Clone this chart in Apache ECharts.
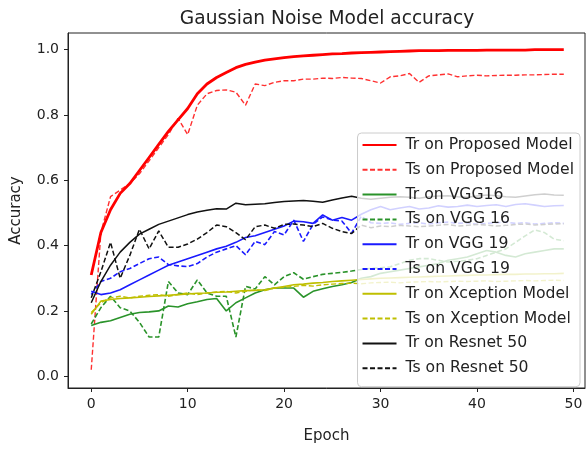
<!DOCTYPE html>
<html>
<head>
<meta charset="utf-8">
<script src="https://cdn.jsdelivr.net/npm/echarts@6/dist/echarts.min.js"></script>
<style>
html,body{margin:0;padding:0;background:#fff;}
#chart{width:586px;height:449px;}
</style>
</head>
<body>
<div id="chart"></div>
<script>
var epochs = [0,1,2,3,4,5,6,7,8,9,10,11,12,13,14,15,16,17,18,19,20,21,22,23,24,25,26,27,28,29,30,31,32,33,34,35,36,37,38,39,40,41,42,43,44,45,46,47,48,49];
var xTicks = [0,10,20,30,40,50];
var yTicks = [0,0.2,0.4,0.6,0.8,1.0];

var trProposed = [0.31,0.44,0.51,0.56,0.59,0.63,0.67,0.71,0.75,0.785,0.82,0.865,0.895,0.915,0.93,0.945,0.955,0.962,0.968,0.972,0.976,0.979,0.981,0.983,0.985,0.987,0.988,0.99,0.991,0.992,0.993,0.994,0.995,0.996,0.997,0.997,0.997,0.998,0.998,0.998,0.998,0.999,0.999,0.999,0.999,0.999,1.0,1.0,1.0,1.0];
var tsProposed = [0.02,0.44,0.55,0.57,0.59,0.62,0.66,0.70,0.74,0.79,0.74,0.83,0.865,0.875,0.877,0.87,0.83,0.895,0.89,0.9,0.905,0.905,0.91,0.91,0.913,0.912,0.915,0.913,0.912,0.905,0.898,0.917,0.92,0.927,0.9,0.92,0.923,0.926,0.917,0.92,0.922,0.92,0.921,0.922,0.922,0.923,0.923,0.924,0.925,0.925];
var trVGG16 = [0.155,0.165,0.17,0.18,0.19,0.195,0.197,0.2,0.215,0.212,0.222,0.228,0.235,0.238,0.2,0.225,0.24,0.255,0.265,0.27,0.27,0.27,0.242,0.26,0.268,0.275,0.28,0.287,0.3,0.305,0.315,0.32,0.325,0.33,0.335,0.34,0.345,0.355,0.36,0.365,0.375,0.385,0.38,0.37,0.365,0.375,0.38,0.385,0.39,0.39];
var tsVGG16 = [0.16,0.21,0.245,0.21,0.2,0.165,0.12,0.12,0.29,0.255,0.25,0.295,0.255,0.245,0.245,0.12,0.275,0.267,0.305,0.28,0.305,0.317,0.297,0.305,0.312,0.315,0.318,0.322,0.327,0.33,0.332,0.335,0.345,0.355,0.36,0.36,0.355,0.35,0.352,0.355,0.36,0.37,0.38,0.39,0.41,0.43,0.448,0.44,0.42,0.415];
var trVGG19 = [0.26,0.25,0.255,0.265,0.28,0.295,0.31,0.325,0.34,0.35,0.36,0.37,0.38,0.39,0.398,0.41,0.425,0.43,0.44,0.45,0.46,0.475,0.473,0.468,0.494,0.478,0.486,0.478,0.496,0.51,0.52,0.51,0.515,0.52,0.512,0.515,0.522,0.518,0.52,0.524,0.52,0.523,0.525,0.52,0.526,0.528,0.524,0.52,0.522,0.523];
var tsVGG19 = [0.25,0.29,0.30,0.32,0.33,0.345,0.36,0.365,0.342,0.338,0.336,0.345,0.365,0.38,0.39,0.40,0.372,0.413,0.403,0.443,0.433,0.478,0.413,0.465,0.488,0.478,0.475,0.438,0.49,0.47,0.468,0.47,0.465,0.468,0.47,0.466,0.47,0.472,0.468,0.47,0.465,0.468,0.47,0.472,0.468,0.47,0.466,0.468,0.47,0.468];
var trXception = [0.19,0.23,0.235,0.238,0.24,0.242,0.244,0.246,0.248,0.25,0.252,0.254,0.255,0.257,0.258,0.26,0.262,0.263,0.265,0.27,0.275,0.28,0.282,0.285,0.287,0.29,0.292,0.294,0.296,0.298,0.30,0.301,0.302,0.303,0.304,0.305,0.306,0.307,0.308,0.309,0.31,0.31,0.311,0.312,0.312,0.313,0.313,0.314,0.314,0.315];
var tsXception = [0.195,0.225,0.24,0.245,0.24,0.245,0.248,0.25,0.245,0.25,0.255,0.25,0.255,0.258,0.26,0.255,0.26,0.265,0.262,0.27,0.272,0.275,0.278,0.276,0.28,0.282,0.284,0.285,0.283,0.286,0.287,0.288,0.286,0.288,0.289,0.29,0.289,0.29,0.291,0.29,0.291,0.292,0.29,0.291,0.292,0.293,0.292,0.293,0.294,0.293];
var trResnet = [0.225,0.29,0.34,0.38,0.41,0.435,0.45,0.465,0.475,0.485,0.495,0.503,0.508,0.513,0.512,0.53,0.525,0.527,0.528,0.532,0.535,0.537,0.538,0.536,0.533,0.54,0.546,0.551,0.545,0.542,0.545,0.548,0.55,0.548,0.545,0.55,0.552,0.553,0.55,0.548,0.552,0.555,0.553,0.55,0.548,0.552,0.556,0.558,0.555,0.554];
var tsResnet = [0.24,0.32,0.41,0.30,0.37,0.45,0.39,0.445,0.395,0.395,0.405,0.42,0.44,0.463,0.458,0.44,0.418,0.458,0.463,0.453,0.465,0.466,0.463,0.458,0.468,0.453,0.443,0.437,0.463,0.455,0.46,0.458,0.462,0.46,0.458,0.46,0.462,0.465,0.46,0.462,0.465,0.463,0.46,0.462,0.465,0.466,0.463,0.465,0.466,0.467];

var seriesNames = ['Tr on Proposed Model','Ts on Proposed Model','Tr on VGG16','Ts on VGG 16','Tr on VGG 19','Ts on VGG 19','Tr on Xception Model','Ts on Xception Model','Tr on Resnet 50','Ts on Resnet 50'];
var seriesData = [trProposed,tsProposed,trVGG16,tsVGG16,trVGG19,tsVGG19,trXception,tsXception,trResnet,tsResnet];
var seriesColors = ['#ff0000','#ff3030','#2a932a','#2a932a','#1a1aff','#1a1aff','#bfbf00','#bfbf00','#111111','#111111'];
var seriesDashed = [false,true,false,true,false,true,false,true,false,true];
var seriesWidth = [2.8,1.4,1.6,1.6,1.6,1.6,1.6,1.4,1.5,1.5];

function pairs(arr){ return arr.map(function(v,i){ return [epochs[i], v]; }); }

var series = seriesNames.map(function(n,k){
  return {
    name: n,
    type: 'line',
    data: pairs(seriesData[k]),
    symbol: 'none',
    showSymbol: false,
    smooth: false,
    animation: false,
    z: 2 + (k===0 ? 1 : 0),
    lineStyle: {
      color: seriesColors[k],
      width: seriesWidth[k],
      type: seriesDashed[k] ? [5, 2.5] : 'solid'
    },
    itemStyle: {color: seriesColors[k]}
  };
});

var chart = echarts.init(document.getElementById('chart'), null, {renderer:'canvas'});
chart.setOption({
  backgroundColor: '#ffffff',
  animation: false,
  title: {
    text: 'Gaussian Noise Model accuracy',
    left: 322, top: 5, textAlign: 'center',
    textStyle: {fontFamily: 'DejaVu Sans', fontSize: 18.6, fontWeight: 'normal', color: '#222'}
  },
  grid: {left: 68, right: 1, top: 33, bottom: 54.5, show: true, borderColor: '#222', borderWidth: 1, backgroundColor: 'transparent'},
  xAxis: {
    type: 'value', min: -2.41, max: 51.2,
    name: 'Epoch', nameLocation: 'middle', nameGap: 41,
    nameTextStyle: {fontFamily: 'DejaVu Sans', fontSize: 15, color: '#222'},
    axisLine: {show: true, onZero: false, lineStyle: {color: '#222', width: 1}},
    axisTick: {show: true, inside: false, length: 4, customValues: xTicks, lineStyle: {color: '#222'}},
    axisLabel: {customValues: xTicks, margin: 9, fontFamily: 'DejaVu Sans', fontSize: 14, color: '#222'},
    splitLine: {show: false}
  },
  yAxis: {
    type: 'value', min: -0.0361, max: 1.0512,
    name: 'Accuracy', nameLocation: 'middle', nameGap: 44, nameRotate: 90,
    nameTextStyle: {fontFamily: 'DejaVu Sans', fontSize: 15, color: '#222'},
    axisLine: {show: true, onZero: false, lineStyle: {color: '#222', width: 1}},
    axisTick: {show: true, inside: false, length: 4, customValues: yTicks, lineStyle: {color: '#222'}},
    axisLabel: {customValues: yTicks, margin: 9, fontFamily: 'DejaVu Sans', fontSize: 14, color: '#222',
      formatter: function(v){ return v.toFixed(1); }},
    splitLine: {show: false}
  },
  legend: {
    orient: 'vertical',
    right: 6, top: 133,
    padding: [4, 6, 10.5, 4],
    itemWidth: 34, itemHeight: 16, itemGap: 8.8,
    itemStyle: {opacity: 0},
    backgroundColor: 'rgba(255,255,255,0.8)',
    borderColor: '#cccccc', borderWidth: 1, borderRadius: 4,
    textStyle: {fontFamily: 'DejaVu Sans', fontSize: 15.65, color: '#222', padding: [0,0,0,4]},
    data: seriesNames
  },
  series: series
});
</script>
</body>
</html>
